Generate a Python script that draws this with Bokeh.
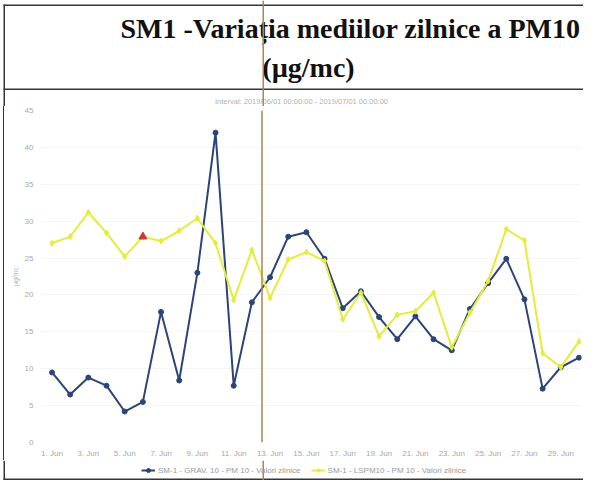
from bokeh.plotting import figure
from bokeh.models import (Range1d, FixedTicker, Label, BoxAnnotation, Legend, LegendItem, Span)
from bokeh.embed import file_html
from bokeh.resources import INLINE

# ---- data ----
days = list(range(1, 31))
grav = [9.5, 6.5, 8.8, 7.7, 4.2, 5.5, 17.7, 8.4, 23.0, 42.0,
        7.7, 19.0, 22.4, 27.9, 28.5, 24.9, 18.2, 20.5, 17.0, 14.0,
        17.1, 14.0, 12.5, 18.1, 21.6, 24.9, 19.4, 7.3, 10.2, 11.5]
lspm = [27.0, 27.9, 31.2, 28.4, 25.2, 27.9, 27.3, 28.7, 30.4, 27.0,
        19.3, 26.1, 19.6, 24.8, 25.8, 24.6, 16.7, 20.3, 14.4, 17.3,
        17.8, 20.3, 12.9, 17.6, 21.9, 28.9, 27.4, 12.1, 10.2, 13.7]
tick_days = [1, 3, 5, 7, 9, 11, 13, 15, 17, 19, 21, 23, 25, 27, 29]
tick_labels = ["%d. Jun" % d for d in tick_days]
y_ticks = [0, 5, 10, 15, 20, 25, 30, 35, 40, 45]
highlight_index = 5
series_names = ["SM-1 - GRAV. 10 - PM 10 - Valori zilnice",
                "SM-1 - LSPM10 - PM 10 - Valori zilnice"]
title1 = "SM1 -Variația mediilor zilnice a PM10"
title2 = "(µg/mc)"
subtitle = "Interval: 2019/06/01 00:00:00 - 2019/07/01 00:00:00"

W = 583
HH, MH, FH = 106, 354, 20          # header / main / footer heights
MW = 579                           # main chart canvas width (plus 4.5px css edge)
FL, FR = 36, 2                     # main min borders left / right
FT, FB = 110 - HH, 444 - HH        # main frame top/bottom inside main canvas
CREASE_X = 262
BLUE = "#2d4478"
YELLOW = "#e4ed3a"
RULE = "#353535"
CREASE = "#a8845a"


def bare(height):
    f = figure(width=W, height=height, output_backend="svg", toolbar_location=None,
               x_range=Range1d(0, W), y_range=Range1d(height, 0), title=None,
               x_axis_location=None, y_axis_location=None)
    f.min_border_left = f.min_border_right = f.min_border_top = f.min_border_bottom = 0
    f.grid.visible = False
    f.outline_line_color = None
    f.background_fill_color = "white"
    f.border_fill_color = "white"
    return f


def rect(f, x0, x1, y0, y1, color):
    f.add_layout(BoxAnnotation(left=x0, right=x1, top=y0, bottom=y1,
                               fill_color=color, fill_alpha=1, line_color=None,
                               level="overlay"))


# ---- header ----
hdr = bare(HH)
hdr.add_layout(Label(x=350, y=28, text=title1, text_font="Liberation Serif",
                     text_font_size="28px", text_font_style="bold", text_align="center",
                     text_baseline="middle", text_color="#111111"))
hdr.add_layout(Label(x=308, y=67, text=title2, text_font="Liberation Serif",
                     text_font_size="28px", text_font_style="bold", text_align="center",
                     text_baseline="middle", text_color="#111111"))
hdr.add_layout(Label(x=301, y=101, text=subtitle, text_font="Liberation Sans",
                     text_font_size="7.5px", text_align="center", text_baseline="middle",
                     text_color="#b0b0b0"))
rect(hdr, 3, W, 4, 5.5, RULE)
rect(hdr, 3, W, 88, 89.5, RULE)
rect(hdr, 3, 4.5, 4, HH, RULE)
rect(hdr, CREASE_X, CREASE_X + 1.5, 0, HH, CREASE)

# ---- main chart ----
p = figure(width=MW, height=MH, output_backend="svg", toolbar_location=None, title=None,
           x_range=Range1d(0.367, 30.14), y_range=Range1d(0, 45))
p.min_border_left = FL
p.min_border_right = FR
p.min_border_top = FT
p.min_border_bottom = MH - FB
p.outline_line_color = None
p.background_fill_color = "white"
p.border_fill_color = "white"
p.xgrid.grid_line_color = None
p.ygrid.grid_line_color = "#f6f6f6"
p.styles = {"border-left": "1.5px solid #353535", "margin-left": "3px"}

p.xaxis.ticker = FixedTicker(ticks=tick_days)
p.xaxis.major_label_overrides = {d: l for d, l in zip(tick_days, tick_labels)}
p.yaxis.ticker = FixedTicker(ticks=y_ticks)
for ax in (p.xaxis[0], p.yaxis[0]):
    ax.axis_line_color = None
    ax.major_tick_line_color = None
    ax.minor_tick_line_color = None
    ax.major_tick_out = 0
    ax.major_tick_in = 0
    ax.minor_tick_out = 0
    ax.major_label_text_font = "Liberation Sans"
    ax.major_label_text_font_size = "8px"
    ax.major_label_text_color = "#a8a8a8"
p.xaxis.major_label_standoff = 6
p.yaxis.major_label_standoff = 7
p.yaxis.axis_label = "µg/mc"
p.yaxis.axis_label_text_font = "Liberation Sans"
p.yaxis.axis_label_text_font_size = "7px"
p.yaxis.axis_label_text_font_style = "normal"
p.yaxis.axis_label_text_color = "#b0b0b0"
p.yaxis.axis_label_standoff = 3

p.line(days, grav, line_color=BLUE, line_width=2)
p.scatter(days, grav, marker="circle", size=5, fill_color=BLUE, line_color=BLUE)
p.line(days, lspm, line_color=YELLOW, line_width=2)
p.scatter(days, lspm, marker="diamond", size=6, fill_color=YELLOW, line_color=YELLOW)
p.scatter([days[highlight_index]], [lspm[highlight_index]], marker="triangle", size=8,
          fill_color="#c83a3a", line_color="#c83a3a")
p.add_layout(Span(location=CREASE_X - 4.5 - FL, location_units="screen", dimension="height",
                  line_color=CREASE, line_width=1.5))

# ---- footer with legend ----
ftr = bare(FH)
nan = [float("nan")]
l1 = ftr.line(nan, nan, line_color=BLUE, line_width=2)
s1 = ftr.scatter(nan, nan, marker="circle", size=5, fill_color=BLUE, line_color=BLUE)
l2 = ftr.line(nan, nan, line_color=YELLOW, line_width=2)
s2 = ftr.scatter(nan, nan, marker="diamond", size=6, fill_color=YELLOW, line_color=YELLOW)
legend = Legend(items=[LegendItem(label=series_names[0], renderers=[l1, s1]),
                       LegendItem(label=series_names[1], renderers=[l2, s2])],
                orientation="horizontal", location=(141, 5),
                label_text_font="Liberation Sans", label_text_font_size="8px",
                label_text_color="#9a9a9a", border_line_color=None,
                background_fill_alpha=0, glyph_width=14, glyph_height=10,
                spacing=10, padding=2, margin=0, label_standoff=3,
                label_height=10)
ftr.add_layout(legend)
rect(ftr, 3, W, FH - 2, FH - 0.5, RULE)
rect(ftr, 3, 4.5, 0, FH, RULE)
rect(ftr, CREASE_X, CREASE_X + 1.5, 0, FH, CREASE)

open("out.html", "w").write(file_html([hdr, p, ftr], INLINE))
